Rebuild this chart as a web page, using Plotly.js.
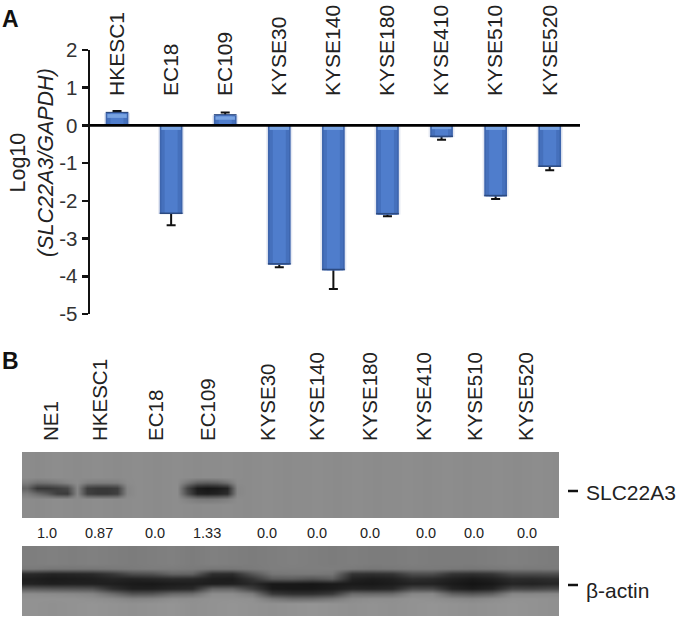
<!DOCTYPE html>
<html>
<head>
<meta charset="utf-8">
<script src="https://cdn.plot.ly/plotly-3.0.1.min.js"></script>
<style>html,body{margin:0;padding:0;background:#fff}#c{width:677px;height:618px}</style>
</head>
<body>
<div id="c"></div>
<script>
const W = 677, H = 618;
const cellLines = ['HKESC1','EC18','EC109','KYSE30','KYSE140','KYSE180','KYSE410','KYSE510','KYSE520'];
const log10Expr = [0.33,-2.35,0.27,-3.69,-3.84,-2.36,-0.31,-1.88,-1.10];
const errExpr   = [0.05,0.30,0.07,0.07,0.50,0.05,0.07,0.07,0.09];
const glowDepth = [0.10,-0.12,0.09,-0.12,-0.12,-0.12,-0.10,-0.12,-0.12];
const glowBase  = [0.20,0,0.15,0,0,0,0,0,0];
const edgeDepth = [0.03,0.04,0.03,0.04,0.04,0.04,0.04,0.04,0.04];
const yTicks = [2,1,0,-1,-2,-3,-4,-5];
const yTickText = ['2','1','0','-1','-2','-3','-4','-5'];

const blotLanes = ['NE1','HKESC1','EC18','EC109','KYSE30','KYSE140','KYSE180','KYSE410','KYSE510','KYSE520'];
const laneTickPos = [51,100,156,208,268,317,370,424,475,526];
const densityLabels = ['1.0','0.87','0.0','1.33','0.0','0.0','0.0','0.0','0.0','0.0'];
const densityPos = [47,99,155,207,267,317,370,426,474,527];

const tb = [140,138,140,141,140,139,140,141,140,139,140,141,140,139,140,141,140,139,140,140,141,140,139,140,141,140,139,140,140,141,140,139,140,141,140,139,140,140,141,140,139,140,141,140,139,140,140,141,140,139,140,141,140,139];
const tBand1 = [125,112,115,122,132,139,126,124,124,126,139,141,140,139,140,141,118,96,92,96,112,139,139,140,141,140,139,140,140,141,140,139,140,141,140,139,140,140,141,140,139,140,141,140,139,140,140,141,140,139,140,141,140,139];
const tBand2 = [100,55,55,62,72,134,62,56,56,62,134,141,140,139,140,141,70,28,22,26,36,135,139,140,141,140,139,140,140,141,140,139,140,141,140,139,140,140,141,140,139,140,141,140,139,140,140,141,140,139,140,141,140,139];
const tBand3 = [125,105,88,62,58,134,64,56,56,64,134,141,140,139,140,141,78,34,30,34,44,135,139,140,141,140,139,140,140,141,140,139,140,141,140,139,140,140,141,140,139,140,141,140,139,140,140,141,140,139,140,141,140,139];
const tBand4 = [140,138,140,141,140,139,140,141,140,139,140,141,140,139,140,141,130,122,120,122,128,140,139,140,141,140,139,140,140,141,140,139,140,141,140,139,140,140,141,140,139,140,141,140,139,140,140,141,140,139,140,141,140,139];
const topBlot = [tb,tb,tb,tb,tb,tBand1,tBand2,tBand3,tBand4,tb,tb,tb];

const bb = [126,128,126,128,126,124,126,128,124,128,126,124,126,128,126,124,126,124,124,126,124,124,124,126,128,126,124];
const bl = [146,144,146,148,146,144,146,148,144,146,148,146,144,146,148,146,144,146,144,146,148,146,144,146,148,146,144];
const bRow4 = [122,118,118,118,120,122,124,124,122,118,118,122,126,126,126,126,122,118,120,122,122,120,118,120,122,122,122];
const bRow5 = [42,36,38,42,56,78,82,100,98,46,44,85,118,120,120,118,52,48,52,78,78,52,48,54,76,76,78];
const bRow6 = [30,26,28,30,36,34,38,42,40,30,28,52,90,92,84,94,34,28,32,46,42,32,26,32,44,42,46];
const bRow7 = [34,30,32,32,30,26,24,28,30,30,32,40,24,24,22,26,26,24,28,34,34,26,20,24,36,34,38];
const bRow8 = [90,86,84,82,48,32,32,38,42,100,100,64,26,24,24,28,38,36,40,74,72,36,28,36,70,68,74];
const bRow9 = [140,138,136,132,108,82,84,104,108,140,140,124,58,48,48,58,106,104,106,134,136,96,86,96,134,134,136];
const bRow10 = [146,146,146,144,140,132,134,142,142,146,146,144,120,108,110,120,138,142,142,146,144,138,134,140,146,146,144];
const bottomBlot = [bb,bb,bb,bb,bRow4,bRow5,bRow6,bRow7,bRow8,bRow9,bRow10,bl,bl,bl];

const px = v => v / W;
const py = v => 1 - v / H;
const grays = [[0,'#000000'],[1,'#ffffff']];
const font = 'Liberation Sans, Arial, sans-serif';

function barLayer(width, color, extra) {
  return Object.assign({type:'bar', x:cellLines, y:log10Expr, width:width,
    marker:{color:color, line:{width:0}}, xaxis:'x', yaxis:'y', hoverinfo:'skip', showlegend:false}, extra||{});
}
const data = [
  barLayer(0.48,'#e4e8f2',{error_y:{type:'data',symmetric:true,array:errExpr,visible:true,color:'#111111',thickness:2,width:4.5}}),
  barLayer(0.42,'#3d65ad'),
  barLayer(0.36,'#4570bc'),
  barLayer(0.24,'#4f7dcc'),
  {type:'bar', x:cellLines, y:glowDepth, base:glowBase, width:0.36, marker:{color:'#78a3e2',line:{width:0}},
   xaxis:'x', yaxis:'y', hoverinfo:'skip', showlegend:false},
  {type:'bar', x:cellLines, y:edgeDepth, base:log10Expr, width:0.42, marker:{color:'#2c4a80',line:{width:0}},
   xaxis:'x', yaxis:'y', hoverinfo:'skip', showlegend:false},
  {type:'heatmap', z:topBlot, x0:27, dx:10, y0:0, dy:1, xaxis:'x2', yaxis:'y2', zmin:0, zmax:255, colorscale:grays,
   showscale:false, zsmooth:'best', hoverinfo:'skip'},
  {type:'heatmap', z:bottomBlot, x0:32, dx:20, y0:0, dy:1, xaxis:'x3', yaxis:'y3', zmin:0, zmax:255, colorscale:grays,
   showscale:false, zsmooth:'best', hoverinfo:'skip'}
];

const textAnn = (text,x,y,size,extra) => Object.assign({text:text,x:x,y:y,xref:'paper',yref:'paper',showarrow:false,
  font:{family:font,size:size,color:'#222222'},xanchor:'left',yanchor:'middle'},extra||{});

const annotations = [
  textAnn('<b>A</b>',px(0),py(19),23,{font:{family:font,size:23,color:'#111111'}}),
  textAnn('<b>B</b>',px(0),py(361),23,{font:{family:font,size:23,color:'#111111'}}),
  textAnn('Log10<br><i>(SLC22A3/GAPDH)</i>',px(32),py(163),21.5,{textangle:-90,xanchor:'center'}),
  textAnn('SLC22A3',px(584),py(492),21),
  textAnn('β-actin',px(584),py(590),21)
].concat(densityLabels.map((t,i)=>({text:t,x:densityPos[i],y:py(533),xref:'x2',yref:'paper',showarrow:false,
  font:{family:font,size:14.5,color:'#222222'},xanchor:'center',yanchor:'middle'})));

const layout = {
  width:W, height:H, margin:{l:0,r:0,t:0,b:0,pad:0}, paper_bgcolor:'#ffffff', plot_bgcolor:'rgba(0,0,0,0)',
  barmode:'overlay', showlegend:false, annotations:annotations,
  xaxis:{domain:[px(90),px(580)], range:[-0.5,8.56], type:'category', categoryorder:'array', categoryarray:cellLines,
    anchor:'free', position:py(96), side:'top', tickangle:-90, ticks:'', showline:false, showgrid:false, zeroline:false,
    tickfont:{family:font,size:21,color:'#222222'}, automargin:false, fixedrange:true},
  yaxis:{domain:[py(314),py(50)], range:[-5,2], anchor:'x', side:'left', tickmode:'array', tickvals:yTicks, ticktext:yTickText,
    ticks:'outside', ticklen:6, tickwidth:2.5, tickcolor:'#111111', showline:true, linewidth:2.5, linecolor:'#111111',
    showgrid:false, zeroline:false, tickfont:{family:font,size:20.5,color:'#333333'}, automargin:false, fixedrange:true},
  xaxis2:{domain:[px(22),px(559)], range:[22,559], anchor:'free', position:py(441), side:'top', tickmode:'array',
    tickvals:laneTickPos, ticktext:blotLanes, tickangle:-90, ticks:'', showline:false, showgrid:false, zeroline:false,
    tickfont:{family:font,size:20.5,color:'#222222'}, automargin:false, fixedrange:true},
  yaxis2:{domain:[py(518),py(452)], range:[11.5,-0.5], anchor:'x2', visible:false, fixedrange:true},
  xaxis3:{domain:[px(22),px(559)], range:[22,559], anchor:'y3', visible:false, fixedrange:true},
  yaxis3:{domain:[py(616),py(546)], range:[13.5,-0.5], anchor:'x3', visible:false, fixedrange:true},
  shapes:[
    {type:'line',xref:'x domain',yref:'y',x0:0,x1:1,y0:0,y1:0,layer:'above',line:{color:'#000000',width:2.8}},
    {type:'line',xref:'paper',yref:'paper',x0:px(568),x1:px(578),y0:py(491),y1:py(491),line:{color:'#111111',width:2.5}},
    {type:'line',xref:'paper',yref:'paper',x0:px(568),x1:px(578),y0:py(585),y1:py(585),line:{color:'#111111',width:2.5}}
  ]
};
Plotly.newPlot('c', data, layout, {displayModeBar:false, staticPlot:true});
</script>
</body>
</html>
